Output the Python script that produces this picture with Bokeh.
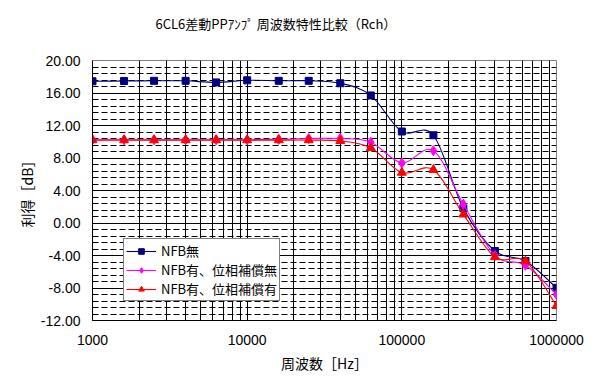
import numpy as np
from bokeh.plotting import figure
from bokeh.models import (FixedTicker, Legend, LegendItem, Title,
                          ColumnDataSource, NumeralTickFormatter)
from bokeh.embed import file_html
from bokeh.resources import INLINE

# ---- data ----
freq = [1000, 1600, 2500, 4000, 6300, 10000, 16000, 25000, 40000,
        63000, 100000, 160000, 250000, 400000, 630000, 1000000]
nfb_none = [17.44, 17.48, 17.5, 17.5, 17.3, 17.56, 17.5, 17.5, 17.2,
            15.7, 11.26, 10.8, 1.8, -3.45, -4.68, -7.98]
nfb_nocomp = [10.25, 10.25, 10.25, 10.25, 10.25, 10.25, 10.3, 10.4, 10.4,
              9.95, 7.4, 8.9, 2.3, -4.0, -5.2, -8.8]
nfb_comp = [10.2, 10.2, 10.2, 10.2, 10.2, 10.2, 10.2, 10.2, 10.1,
            9.25, 6.2, 6.55, 1.06, -4.2, -4.7, -10.2]
series_names = ["NFB無", "NFB有、位相補償無", "NFB有、位相補償有"]
title_text = "6CL6差動PPｱﾝﾌﾟ 周波数特性比較（Rch）"
x_label = "周波数［Hz］"
y_label = "利得［dB］"
x_ticks = [1000, 10000, 100000, 1000000]
y_ticks = [-12, -8, -4, 0, 4, 8, 12, 16, 20]

JP = "Noto Sans CJK JP"

p = figure(width=602, height=376, x_axis_type="log",
           x_range=(1000, 1000000), y_range=(-12, 20),
           output_backend="svg", toolbar_location=None,
           min_border_left=92, min_border_right=46,
           min_border_top=60, min_border_bottom=56)
p.background_fill_color = "white"
p.border_fill_color = "white"
p.outline_line_color = "#808080"
p.outline_line_width = 1

# chart title (outermost) with a blank spacer panel between it and the frame
p.title = Title(text=title_text, align="left", offset=63, standoff=0,
                text_font=JP, text_font_size="13px", text_font_style="normal",
                text_color="black")
p.add_layout(Title(text=" ", standoff=7, text_font=JP, text_font_size="13px"), "above")

# axes
x_minor = [k * 10 ** d for d in (3, 4, 5) for k in range(2, 10)]
p.xaxis.ticker = FixedTicker(ticks=x_ticks, minor_ticks=x_minor)
p.xaxis.major_label_overrides = {v: str(v) for v in x_ticks}
p.yaxis.ticker = FixedTicker(ticks=y_ticks,
                             minor_ticks=[round(-12 + 0.8 * i, 2) for i in range(41)])
p.yaxis.formatter = NumeralTickFormatter(format="0.00")
for ax in (p.xaxis[0], p.yaxis[0]):
    ax.major_tick_out = 0
    ax.major_tick_in = 0
    ax.minor_tick_out = 0
    ax.minor_tick_in = 0
    ax.axis_line_color = "black"
    ax.major_label_text_font = "Liberation Sans"
    ax.major_label_text_font_size = "14px"
    ax.major_label_text_color = "black"
    ax.axis_label_text_font = JP
    ax.axis_label_text_font_size = "14px"
    ax.axis_label_text_font_style = "normal"
    ax.axis_label_text_color = "black"
p.xaxis.axis_label = x_label
p.yaxis.axis_label = y_label
p.xaxis.major_label_standoff = 14
p.xaxis.axis_label_standoff = 5
p.yaxis.major_label_standoff = 12
p.yaxis.axis_label_standoff = 1

# grids
p.xgrid.grid_line_color = "black"
p.xgrid.minor_grid_line_color = "black"
p.xgrid.grid_line_width = 1
p.xgrid.minor_grid_line_width = 1
p.ygrid.grid_line_color = "black"
p.ygrid.minor_grid_line_color = "black"
p.ygrid.minor_grid_line_dash = "6 3"


def smooth_segments(xs, ys):
    lx = np.log10(np.array(xs, dtype=float))
    y = np.array(ys, dtype=float)
    n = len(lx)
    pts = np.stack([lx, y], axis=1)
    x0, y0, x1, y1, cx0, cy0, cx1, cy1 = ([] for _ in range(8))
    for i in range(n - 1):
        p0 = pts[max(i - 1, 0)]
        p1 = pts[i]
        p2 = pts[i + 1]
        p3 = pts[min(i + 2, n - 1)]
        c0 = p1 + (p2 - p0) / 6.0
        c1 = p2 - (p3 - p1) / 6.0
        x0.append(10 ** p1[0]); y0.append(p1[1])
        x1.append(10 ** p2[0]); y1.append(p2[1])
        cx0.append(10 ** c0[0]); cy0.append(c0[1])
        cx1.append(10 ** c1[0]); cy1.append(c1[1])
    return ColumnDataSource(dict(x0=x0, y0=y0, x1=x1, y1=y1,
                                 cx0=cx0, cy0=cy0, cx1=cx1, cy1=cy1))


styles = [("#000080", "square", 7), ("#FF00FF", "diamond", 10), ("#FF0000", "triangle", 9)]
items = []
for name, vals, (col, mk, sz) in zip(series_names, [nfb_none, nfb_nocomp, nfb_comp], styles):
    src = smooth_segments(freq, vals)
    b = p.bezier(x0="x0", y0="y0", x1="x1", y1="y1", cx0="cx0", cy0="cy0",
                 cx1="cx1", cy1="cy1", source=src, line_color=col, line_width=1.1)
    s = p.scatter(freq, vals, marker=mk, size=sz, fill_color=col, line_color=col)
    items.append((name, b, s))

legend_items = [LegendItem(label=n, renderers=[b, s]) for n, b, s in items]
legend = Legend(items=legend_items, location=(31, 19),
                label_text_font=JP, label_text_font_size="13px",
                label_text_color="black",
                border_line_color="black", border_line_width=1,
                background_fill_color="white", background_fill_alpha=1,
                glyph_width=30, glyph_height=14, spacing=0,
                padding=2, margin=0, label_standoff=5)
p.add_layout(legend, "center")

open("out.html", "w").write(file_html(p, INLINE))
